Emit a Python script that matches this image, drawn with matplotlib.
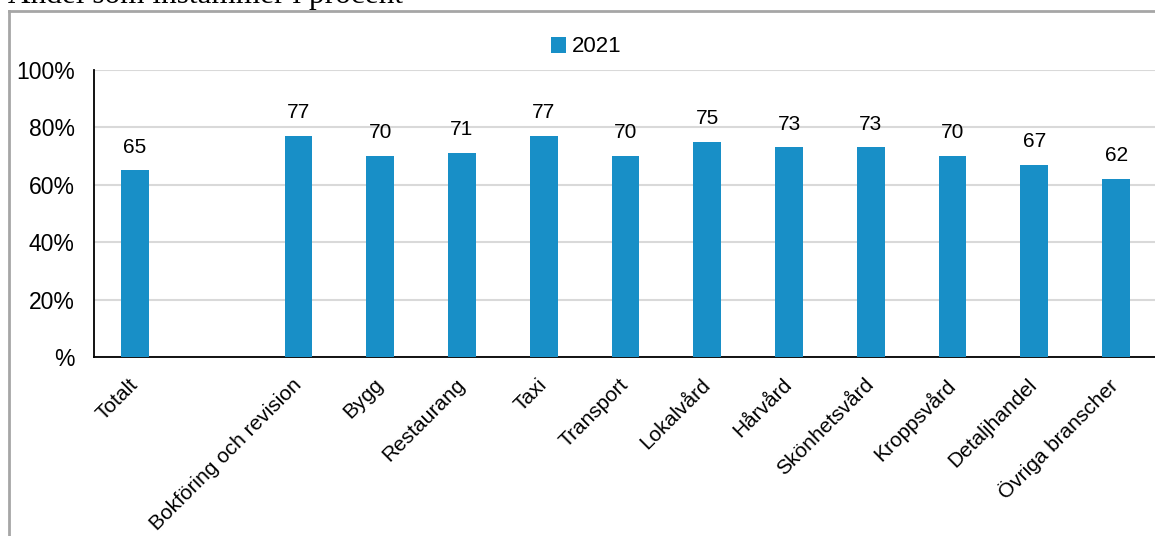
import matplotlib
matplotlib.use("Agg")
import matplotlib.pyplot as plt
from matplotlib.lines import Line2D
from matplotlib.transforms import ScaledTranslation

categories = ["Totalt", "", "Bokföring och revision", "Bygg", "Restaurang", "Taxi",
              "Transport", "Lokalvård", "Hårvård", "Skönhetsvård", "Kroppsvård",
              "Detaljhandel", "Övriga branscher"]
values_2021 = [65, None, 77, 70, 71, 77, 70, 75, 73, 73, 70, 67, 62]
series_name = "2021"
yticks = [0, 20, 40, 60, 80, 100]
ytick_labels = ["%", "20%", "40%", "60%", "80%", "100%"]
title = "Andel som instämmer i procent"

W, H = 1155, 536
fig = plt.figure(figsize=(W / 100, H / 100), dpi=100)
plt.rcParams['font.family'] = ['Liberation Sans', 'DejaVu Sans']

ax = fig.add_axes([94 / W, 1 - 357 / H, (1157 - 94) / W, (357 - 70) / H])

x = list(range(len(categories)))
bar_color = "#188fc7"
xs = [i for i, v in zip(x, values_2021) if v is not None]
vs = [v for v in values_2021 if v is not None]
bars = ax.bar(xs, vs, width=0.34, color=bar_color, label=series_name, zorder=3)
for xi, v in zip(xs, vs):
    ax.annotate(f"{v}", (xi, v), xytext=(0, 10), textcoords="offset points",
                ha="center", va="bottom", fontsize=15, color="#000000")

ax.set_xlim(-0.5, len(categories) - 0.5)
ax.set_ylim(0, 100)
ax.set_yticks(yticks)
ax.set_yticklabels(ytick_labels, fontsize=16.5)
ax.set_xticks(x)
ax.set_xticklabels([""] * len(categories))
offset = ScaledTranslation(6.5 / 100, -18 / 100, fig.dpi_scale_trans)
for xi, lab in zip(x, categories):
    ax.text(xi, 0, lab, transform=ax.get_xaxis_transform() + offset,
            rotation=45, ha="right", va="top", fontsize=15, color="#000000")
ax.tick_params(axis="both", length=0, pad=6)
ax.tick_params(axis="y", pad=14)
ax.yaxis.grid(True, color="#d9d9d9", linewidth=1.5, zorder=0)
ax.set_axisbelow(True)
for s in ["top", "right"]:
    ax.spines[s].set_visible(False)
ax.spines["left"].set_color("#000000")
ax.spines["bottom"].set_color("#000000")
ax.spines["left"].set_linewidth(1.3)
ax.spines["bottom"].set_linewidth(1.3)

leg = fig.legend(handles=[bars], labels=[series_name], loc="center",
                 bbox_to_anchor=(586 / W, 1 - 47 / H), frameon=False,
                 fontsize=16, handlelength=0.7, handleheight=0.7,
                 handletextpad=0.25)

# outer frame (cropped)
fig.add_artist(Line2D([9 / W, 9 / W], [0, 1 - 11 / H], transform=fig.transFigure,
                      color="#a6a6a6", linewidth=2))
fig.add_artist(Line2D([9 / W, 1], [1 - 11 / H, 1 - 11 / H], transform=fig.transFigure,
                      color="#a6a6a6", linewidth=2))

fig.text(8 / W, 1 - 3 / H, title, fontsize=22.5, family=["Liberation Serif", "DejaVu Serif"],
         ha="left", va="baseline", color="#000000")

fig.savefig("out.png", dpi=100)
